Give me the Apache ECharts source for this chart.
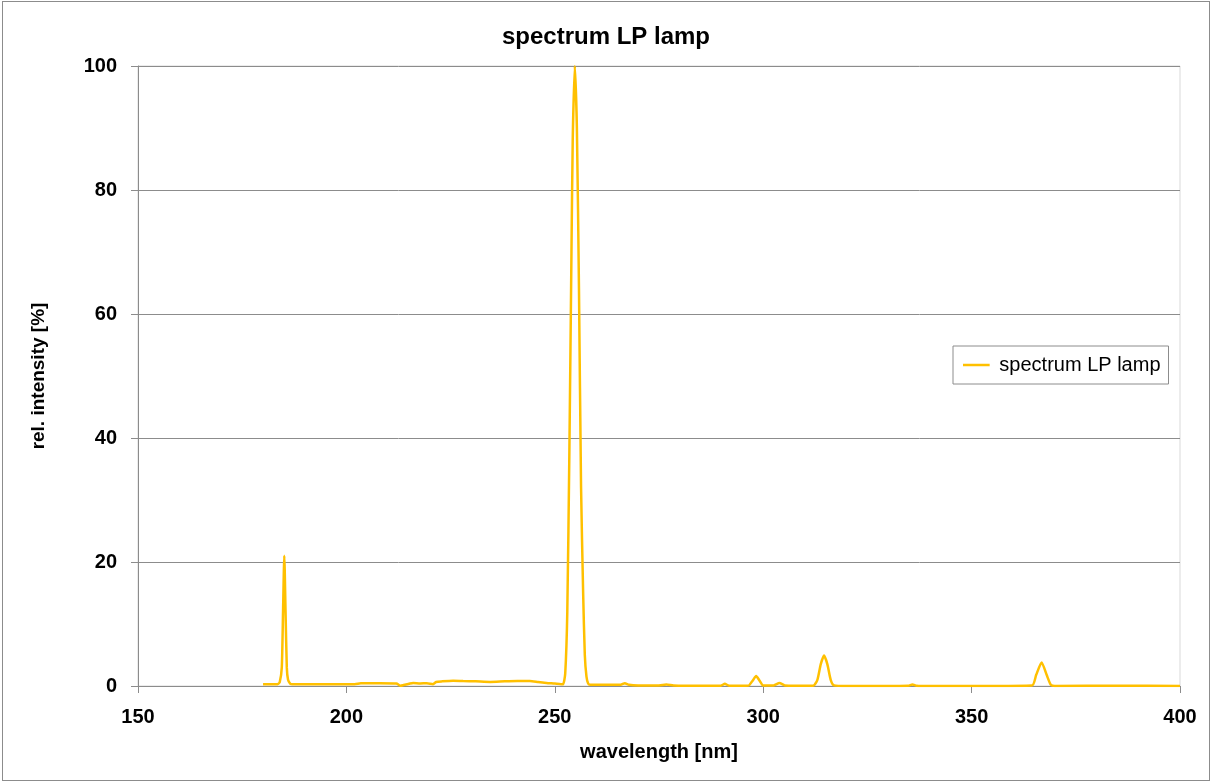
<!DOCTYPE html>
<html>
<head>
<meta charset="utf-8">
<title>spectrum LP lamp</title>
<script src="https://cdn.jsdelivr.net/npm/echarts@6/dist/echarts.min.js"></script>
<style>
  html, body { margin: 0; padding: 0; background: #fff; }
  #frame { position: absolute; left: 2px; top: 1px; width: 1206px; height: 778px; border: 1px solid #8c8c8c; }
  #chart { position: absolute; left: 0; top: 0; width: 1212px; height: 782px; }
</style>
</head>
<body>
<div id="frame"></div>
<div id="chart"></div>
<script>
// Spektrum der Niederdrucklampe
const wavelength = [
  180, 183.5, 184, 184.5, 184.8, 185.1, 185.4, 185.7, 186, 186.5, 187,
  195, 202, 203.5, 208, 212, 212.9, 213.7, 215, 216, 217.7, 219.3, 220.8, 221.5,
  223, 225.6, 228, 231, 234.5, 238, 241, 244, 246, 248, 250, 251.5,
  252, 252.5, 253, 253.5, 254, 254.3, 254.8, 255.3, 255.8, 256.3, 256.8, 257.2, 257.6, 258, 258.5,
  264, 265.8, 266.8, 267.8, 270, 275, 276.8, 278.5, 285, 289.8, 290.8, 291.8,
  296.5, 297.5, 298.3, 299.1, 300, 302.5, 303.9, 305.2, 312, 313, 313.8, 314.6, 315.4, 316.2, 317,
  320, 334.8, 335.8, 336.8, 340, 364.5, 365.5, 366.8, 368, 369, 370, 385, 400
];
const intensity = [
  0.3, 0.3, 0.6, 3, 12, 21, 12, 3, 1, 0.4, 0.3,
  0.3, 0.3, 0.45, 0.45, 0.4, 0.05, 0.15, 0.35, 0.5, 0.4, 0.45, 0.3, 0.65,
  0.75, 0.85, 0.8, 0.75, 0.65, 0.75, 0.8, 0.8, 0.65, 0.5, 0.4, 0.3,
  0.3, 2, 12, 38, 70, 88, 100, 90, 64, 32, 15, 5, 1.5, 0.4, 0.2,
  0.2, 0.2, 0.45, 0.2, 0.1, 0.1, 0.25, 0.1, 0.05, 0.05, 0.35, 0.05,
  0.1, 0.9, 1.6, 0.9, 0.1, 0.1, 0.5, 0.1, 0.05, 1, 3.5, 4.9, 3.5, 1, 0.1,
  0, 0.05, 0.25, 0.05, 0, 0.1, 1.8, 3.8, 1.8, 0.2, 0, 0.05, 0
];

const seriesName = 'spectrum LP lamp';
const fontFam = '"Liberation Sans", Arial, sans-serif';

const chart = echarts.init(document.getElementById('chart'));

chart.setOption({
  animation: false,
  title: {
    text: 'spectrum LP lamp',
    left: 'center',
    top: 20,
    textStyle: { fontFamily: fontFam, fontSize: 24, fontWeight: 'bold', color: '#000' }
  },
  legend: {
    data: [{ name: seriesName, icon: 'path://M0,0H32V3H0Z' }],
    left: 953,
    top: 346,
    orient: 'vertical',
    padding: [9, 8, 9, 10],
    borderColor: '#8c8c8c',
    borderWidth: 1,
    itemWidth: 32,
    itemHeight: 2.5,
    itemGap: 4,
    textStyle: { fontFamily: fontFam, fontSize: 20, color: '#000', padding: [0, 0, 0, 2] }
  },
  grid: {
    left: 138,
    right: 32,
    top: 66,
    bottom: 96,
    show: true,
    borderColor: '#d9d9d9',
    borderWidth: 1
  },
  xAxis: {
    type: 'value',
    min: 150,
    max: 400,
    interval: 50,
    name: 'wavelength [nm]',
    nameLocation: 'middle',
    nameGap: 56,
    nameTextStyle: { fontFamily: fontFam, fontSize: 20, fontWeight: 'bold', color: '#000' },
    axisLine: { lineStyle: { color: '#8c8c8c', width: 1 } },
    axisTick: { show: true, length: 7, lineStyle: { color: '#8c8c8c' } },
    axisLabel: { margin: 21, fontFamily: fontFam, fontSize: 20, fontWeight: 'bold', color: '#000' },
    splitLine: { show: false }
  },
  yAxis: {
    type: 'value',
    min: 0,
    max: 100,
    interval: 20,
    name: 'rel. intensity [%]',
    nameLocation: 'middle',
    nameGap: 90,
    nameTextStyle: { fontFamily: fontFam, fontSize: 19, fontWeight: 'bold', color: '#000' },
    axisLine: { show: true, lineStyle: { color: '#8c8c8c', width: 1 } },
    axisTick: { show: true, length: 7, lineStyle: { color: '#8c8c8c' } },
    axisLabel: { margin: 21, fontFamily: fontFam, fontSize: 20, fontWeight: 'bold', color: '#000' },
    splitLine: { show: true, lineStyle: { color: '#8c8c8c', width: 1 } }
  },
  series: [
    {
      name: seriesName,
      type: 'line',
      data: wavelength.map((w, i) => [w, intensity[i]]),
      showSymbol: false,
      symbol: 'none',
      smooth: 0.2,
      lineStyle: { color: '#FFC000', width: 2.5 },
      itemStyle: { color: '#FFC000' },
      z: 3
    }
  ]
});
</script>
</body>
</html>
